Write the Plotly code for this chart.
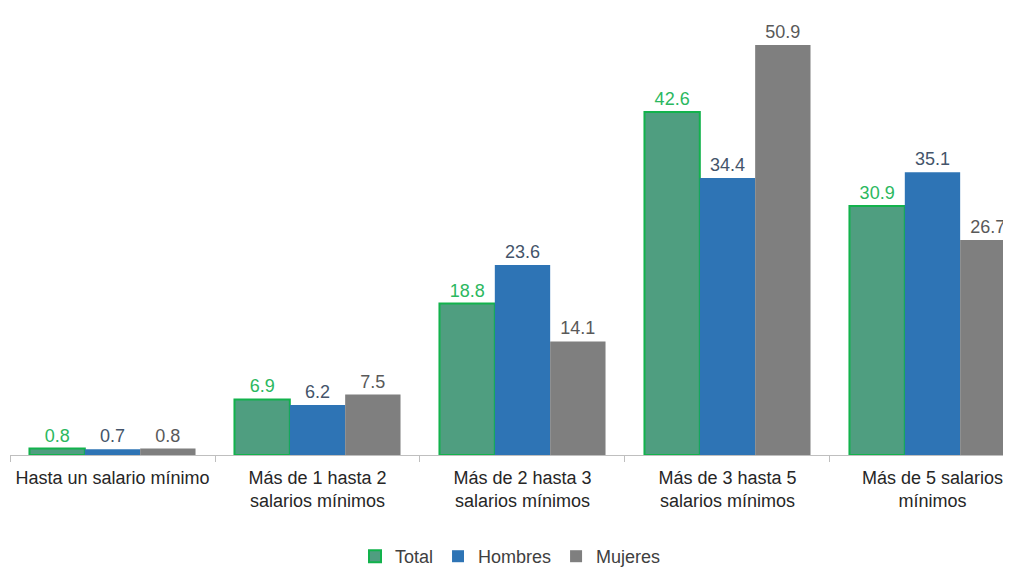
import plotly.graph_objects as go

categories = [
    "Hasta un salario mínimo",
    "Más de 1 hasta 2<br>salarios mínimos",
    "Más de 2 hasta 3<br>salarios mínimos",
    "Más de 3 hasta 5<br>salarios mínimos",
    "Más de 5 salarios<br>mínimos",
]
total = [0.8, 6.9, 18.8, 42.6, 30.9]
hombres = [0.7, 6.2, 23.6, 34.4, 35.1]
mujeres = [0.8, 7.5, 14.1, 50.9, 26.7]

FONT = "Liberation Sans, Arial, sans-serif"

fig = go.Figure()

# (name, values, fill, outline, label colour)
series = [
    ("Total", total, "#4f9e80", "#12b24c", "#2bb860"),
    ("Hombres", hombres, "#2e74b5", "#2e74b5", "#44546a"),
    ("Mujeres", mujeres, "#7f7f7f", "#7f7f7f", "#595959"),
]
for name, vals, fill, outline, lab in series:
    fig.add_trace(go.Bar(
        x=categories,
        y=vals,
        name=name,
        marker=dict(color=fill, line=dict(color=outline, width=2 if name == "Total" else 0)),
        text=[f"{v:.1f}" for v in vals],
        textposition="outside",
        textfont=dict(color=lab, size=18, family=FONT),
        cliponaxis=False,
    ))

# page body has an 8px margin, so the figure is drawn 8px smaller
fig.update_layout(
    width=1003,
    height=562,
    margin=dict(l=2, r=0, t=2, b=115),
    plot_bgcolor="white",
    paper_bgcolor="white",
    barmode="group",
    bargap=0.19,
    bargroupgap=0,
    font=dict(family=FONT, size=18, color="#262626"),
    showlegend=True,
    legend=dict(
        orientation="h",
        x=0.5, xanchor="center",
        yref="container", y=0.024, yanchor="middle",
        font=dict(size=18, color="#404040"),
        itemwidth=30,
        traceorder="normal",
    ),
)
fig.update_xaxes(
    range=[-0.5, 4.383],
    showline=True, linecolor="#bfbfbf", linewidth=1,
    ticks="outside", tickson="boundaries", ticklen=6, tickcolor="#bfbfbf",
    ticklabelstandoff=6,
    tickfont=dict(size=18, color="#262626"),
    showgrid=False,
)
fig.update_yaxes(range=[0, 55.25], visible=False, showgrid=False)

fig.write_html("out.html")
